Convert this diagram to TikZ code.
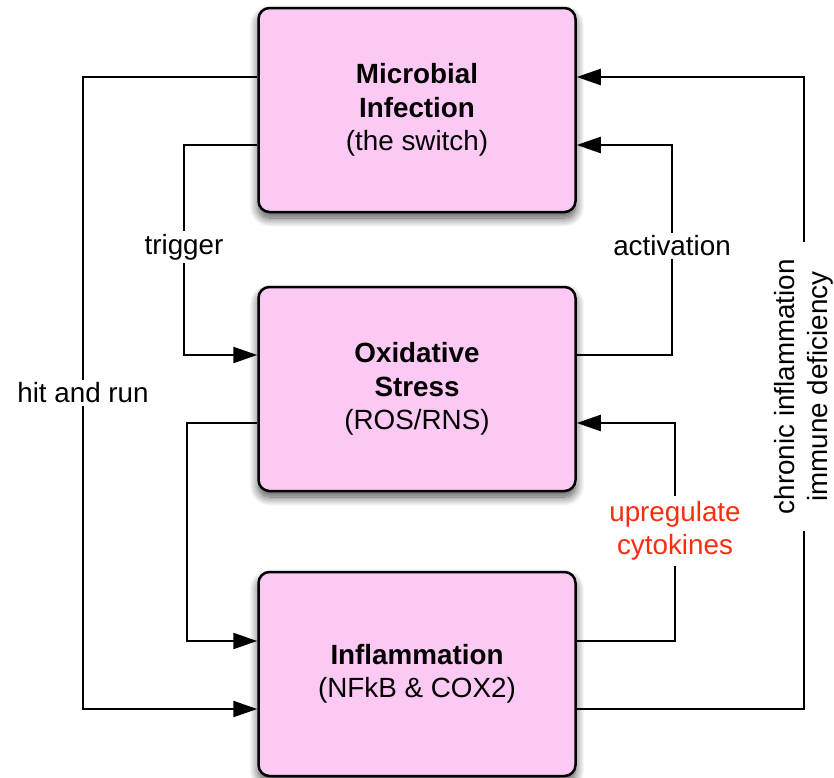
\documentclass[tikz,border=0pt]{standalone}
\usepackage{fontspec}
\setmainfont{Liberation Sans}
\usetikzlibrary{arrows.meta,shadows.blur}
\definecolor{boxpink}{RGB}{252,201,244}
\definecolor{labred}{RGB}{250,45,15}
\begin{document}
\begin{tikzpicture}[x=1pt,y=-1pt,
  font=\fontsize{27.8}{33.5}\selectfont,
  stage/.style={draw=black, line width=2.5pt, fill=boxpink, rounded corners=11pt,
    minimum width=317pt, minimum height=204pt, align=center,
    blur shadow={shadow xshift=0pt, shadow yshift=-6pt, shadow blur radius=9pt,
      shadow blur steps=14, shadow opacity=70}},
  link/.style={draw=black, line width=2.2pt, -{Triangle[length=24pt,width=16pt]}},
  tag/.style={fill=white, inner sep=3pt, align=center}]
\useasboundingbox (0,0) rectangle (834,777);

% the three stages
\node[stage] (mi) at (417,110) {\textbf{Microbial}\\\textbf{Infection}\\(the switch)};
\node[stage] (ox) at (417,389) {\textbf{Oxidative}\\\textbf{Stress}\\(ROS/RNS)};
\node[stage] (fl) at (417,674) {\textbf{Inflammation}\\(NFkB \& COX2)};

% left-hand loops
\draw[link] (mi.west |- 0,77) -- (83,77)
  -- node[tag, pos=0.5]{hit and run} (83,709) -- (fl.west |- 0,709);
\draw[link] (mi.west |- 0,145) -- (184,145)
  -- node[tag, pos=0.485]{trigger} (184,355) -- (ox.west |- 0,355);
\draw[link] (ox.west |- 0,423) -- (187,423) -- (187,641) -- (fl.west |- 0,641);

% right-hand loops
\draw[link] (ox.east |- 0,355) -- (672,355)
  -- node[tag, pos=0.52]{activation} (672,145) -- (mi.east |- 0,145);
\draw[link] (fl.east |- 0,641) -- (675,641)
  -- node[tag, pos=0.505, text=labred, inner sep=5pt]{upregulate\\cytokines} (675,423) -- (ox.east |- 0,423);
\draw[link] (fl.east |- 0,709) -- (804,709)
  -- node[tag, pos=0.51, rotate=90, inner xsep=17pt, inner ysep=0pt]{chronic inflammation\\immune deficiency} (804,77)
  -- (mi.east |- 0,77);
\end{tikzpicture}
\end{document}
